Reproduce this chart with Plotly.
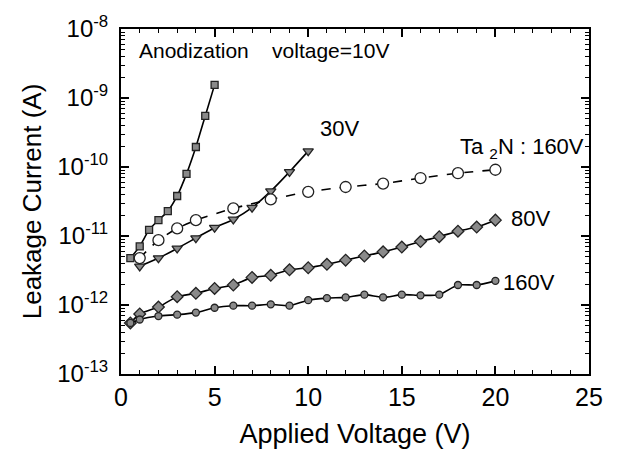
import plotly.graph_objects as go

# ---- data (x in V, y as log10 of current in A) ----
x_10v = [0.5, 1, 1.5, 2, 2.5, 3, 3.5, 4, 4.5, 5]
logy_10v = [-11.32, -11.15, -10.91, -10.77, -10.64, -10.42, -10.10, -9.71, -9.26, -8.81]

x_30v = [1, 2, 3, 4, 5, 6, 7, 8, 9, 10]
logy_30v = [-11.44, -11.32, -11.18, -11.03, -10.88, -10.76, -10.59, -10.35, -10.07, -9.77]

x_ta2n = [1, 2, 3, 4, 6, 8, 10, 12, 14, 16, 18, 20]
logy_ta2n = [-11.32, -11.06, -10.89, -10.77, -10.60, -10.47, -10.36, -10.29, -10.24, -10.16, -10.09, -10.04]

x_80v = [0.5, 1, 2, 3, 4, 5, 6, 7, 8, 9, 10, 11, 12, 13, 14, 15, 16, 17, 18, 19, 20]
logy_80v = [-12.26, -12.13, -12.03, -11.88, -11.83, -11.76, -11.71, -11.60, -11.57, -11.49,
            -11.46, -11.41, -11.35, -11.29, -11.23, -11.16, -11.08, -11.01, -10.93, -10.87, -10.77]

x_160v = [0.5, 1, 2, 3, 4, 5, 6, 7, 8, 9, 10, 11, 12, 13, 14, 15, 16, 17, 18, 19, 20]
logy_160v = [-12.26, -12.21, -12.16, -12.14, -12.11, -12.04, -12.01, -12.01, -11.99, -12.01,
             -11.93, -11.90, -11.89, -11.85, -11.89, -11.85, -11.86, -11.85, -11.71, -11.71, -11.65]

y_tick_vals = [1e-13, 1e-12, 1e-11, 1e-10, 1e-9, 1e-8]
y_tick_text = ["10<sup>-13</sup>", "10<sup>-12</sup>", "10<sup>-11</sup>",
               "10<sup>-10</sup>", "10<sup>-9</sup>", "10<sup>-8</sup>"]
x_tick_vals = [0, 5, 10, 15, 20, 25]


def lin(v):
    return [10 ** a for a in v]


FONT = "Liberation Sans, Arial, Helvetica, sans-serif"
GRAY = "#8a8a8a"
DARK = "#222222"

fig = go.Figure()


def add(x, ly, symbol, size, fill, dash="solid"):
    fig.add_trace(go.Scatter(
        x=x, y=lin(ly), mode="lines+markers",
        line=dict(color="black", width=1.6, dash=dash, shape="spline", smoothing=0.6),
        marker=dict(symbol=symbol, size=size, color=fill,
                    line=dict(color=DARK, width=1.3)),
        showlegend=False,
    ))


add(x_10v, logy_10v, "square", 7, GRAY)
add(x_30v, logy_30v, "triangle-down", 9, GRAY)
add(x_ta2n, logy_ta2n, "circle", 11, "white", dash="dash")
add(x_80v, logy_80v, "diamond", 9, GRAY)
add(x_160v, logy_160v, "circle", 7, GRAY)

minor_y = []
for e in range(-13, -8):
    for m in range(2, 10):
        minor_y.append(m * 10.0 ** e)

fig.update_xaxes(
    range=[0, 25], tickvals=x_tick_vals, ticks="inside", ticklen=8, tickwidth=1.5,
    tickcolor="black", showline=True, linecolor="black", linewidth=2, mirror="allticks",
    showgrid=False, zeroline=False,
    minor=dict(dtick=1, tick0=0, ticks="inside", ticklen=4, tickcolor="black", tickwidth=1),
    tickfont=dict(family=FONT, size=25, color="black"),
    title=dict(text="Applied Voltage (V)", font=dict(family=FONT, size=27, color="black"),
               standoff=14),
)
fig.update_yaxes(
    type="log", range=[-13, -8], tickvals=y_tick_vals, ticktext=y_tick_text,
    ticks="inside", ticklen=8, tickwidth=1.5, tickcolor="black",
    showline=True, linecolor="black", linewidth=2, mirror="allticks",
    showgrid=False, zeroline=False,
    minor=dict(tickvals=minor_y, ticks="inside", ticklen=4, tickcolor="black", tickwidth=1),
    tickfont=dict(family=FONT, size=24, color="black"),
    ticklabelstandoff=6,
    title=dict(text="Leakage Current (A)", font=dict(family=FONT, size=26, color="black"),
               standoff=8),
)

anns = [
    ("Anodization    voltage=10V", 0.034, 0.937, 21),
    ("30V", 0.421, 0.713, 22),
    ("Ta <sub>2</sub>N : 160V", 0.72, 0.655, 22),
    ("80V", 0.829, 0.452, 22),
    ("160V", 0.812, 0.264, 22),
]
for t, xp, yp, fs in anns:
    fig.add_annotation(text=t, x=xp, y=yp, xref="paper", yref="paper",
                       xanchor="left", yanchor="middle", showarrow=False,
                       font=dict(family=FONT, size=fs, color="black"))

fig.update_layout(
    width=620, height=459,
    margin=dict(l=121, r=31, t=29, b=85),
    paper_bgcolor="white", plot_bgcolor="white",
    font=dict(family=FONT, color="black"),
)

fig.write_html("out.html")
